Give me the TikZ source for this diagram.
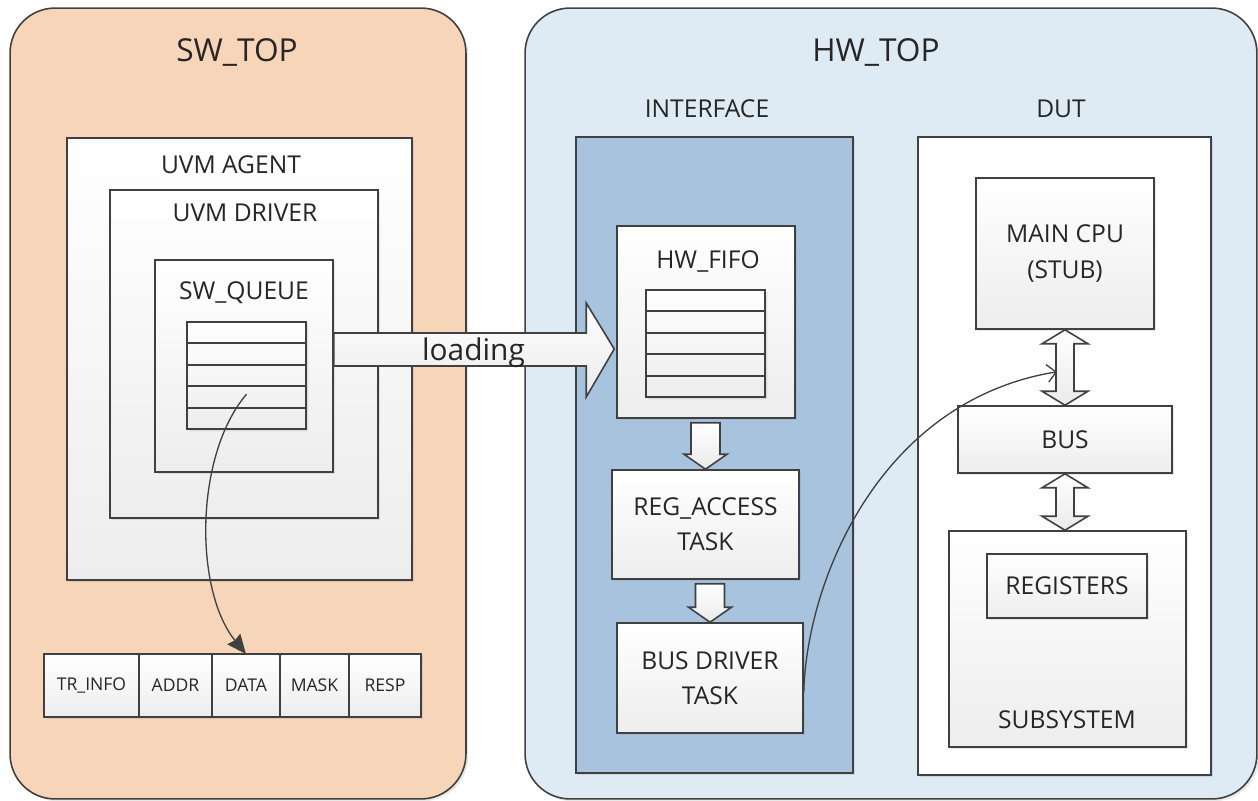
\documentclass[tikz,border=0pt]{standalone}
\usepackage{fontspec}
\setmainfont{Open Sans}
\usepackage{tikz}
\usetikzlibrary{positioning}
\usetikzlibrary{calc,shapes.multipart,shadows,arrows.meta}

\definecolor{swpeach}{RGB}{247,213,184}
\definecolor{hwpale}{RGB}{222,234,244}
\definecolor{ifblue}{RGB}{167,195,222}
\definecolor{edge}{RGB}{64,64,64}

\tikzset{
  blk/.style = {draw=edge, line width=0.9pt, text=black!85, align=center,
    inner sep=0pt, font=\fontsize{14}{20}\selectfont},
  soft/.style = {drop shadow={opacity=0.18, shadow xshift=1.3pt,
    shadow yshift=-1.3pt}},% ombre legere
  frame/.style = {blk, rounded corners=0.9cm, soft},% SW_TOP / HW_TOP
  panel/.style = {blk, rectangle, soft},% interface, dut
  box/.style = {blk, rectangle, top color=white, bottom color=black!7, soft},
  fifo/.style = {box, rectangle split, rectangle split parts=5,
    rectangle split empty part height=0.398cm,
    rectangle split empty part depth=0pt, minimum width=2.38cm},
  field/.style = {box, outer sep=0pt, minimum height=1.26cm,
    font=\fontsize{10}{12}\selectfont},
  title/.style = {text=black!85, anchor=base, font=\fontsize{18}{22}\selectfont},
  lbl/.style = {text=black!85, anchor=base, font=\fontsize{14}{17}\selectfont},
  bigarrow/.style = {draw=edge, line width=0.9pt, top color=white,
    bottom color=black!8},
  link/.style = {draw=edge, line width=0.75pt}
}

% fleche pleine vers le bas, de #1 vers #2
\newcommand{\downblk}[2]{%
  \draw[bigarrow] ($(#2.north |- #1.south)+(-14.5,4)$)
    -- ($(#2.north)+(-14.5,-15)$) -- ($(#2.north)+(-21.5,-15)$)
    -- (#2.north) -- ($(#2.north)+(21.5,-15)$) -- ($(#2.north)+(14.5,-15)$)
    -- ($(#2.north |- #1.south)+(14.5,4)$) -- cycle;}
% fleche pleine double, entre #1 et #2
\newcommand{\dualblk}[2]{%
  \draw[bigarrow] (#1.south) -- ($(#1.south)+(23,14)$) -- ($(#1.south)+(9,14)$)
    -- ($(#1.south |- #2.north)+(9,-14)$) -- ($(#1.south |- #2.north)+(23,-14)$)
    -- (#1.south |- #2.north) -- ($(#1.south |- #2.north)+(-23,-14)$)
    -- ($(#1.south |- #2.north)+(-9,-14)$) -- ($(#1.south)+(-9,14)$)
    -- ($(#1.south)+(-23,14)$) -- cycle;}

\begin{document}
\begin{tikzpicture}[x=0.02cm, y=-0.02cm]
\useasboundingbox (0,0) rectangle (1258,801);

% les deux cadres
\node [frame, fill=swpeach, minimum width=9.12cm, minimum height=15.82cm] (swtop) at (238,403.5) {};
\node [frame, fill=hwpale, minimum width=14.64cm, minimum height=15.82cm] (hwtop) at (891,403.5) {};
\node [title] (swtitle) at (237,61) {SW\_TOP};
\node [title] (hwtitle) at (876,61) {HW\_TOP};

% cote SW
\node [box, minimum width=6.9cm, minimum height=8.84cm] (agent) at (239.5,359) {};
\node [lbl] (agentlbl) at (231,173) {UVM AGENT};
\node [box, minimum width=5.36cm, minimum height=6.56cm] (driver) at (244,354) {};
\node [lbl] (driverlbl) at (245,221) {UVM DRIVER};
\node [box, minimum width=3.56cm, minimum height=4.24cm] (swq) at (244,366) {};
\node [lbl] (swqlbl) at (244,299) {SW\_QUEUE};
\node [fifo] (queue) at (246.5,375.5) {};

\node [field, minimum width=1.9cm] (trinfo) at (91.5,685.5) {TR\_INFO};
\node [field, minimum width=1.46cm, right=0pt of trinfo] (addr) {ADDR};
\node [field, minimum width=1.36cm, right=0pt of addr] (data) {DATA};
\node [field, minimum width=1.38cm, right=0pt of data] (mask) {MASK};
\node [field, minimum width=1.44cm, right=0pt of mask] (resp) {RESP};

% cote HW
\node [panel, fill=ifblue, minimum width=5.54cm, minimum height=12.72cm] (iface) at (714.5,455) {};
\node [lbl] (ifacelbl) at (707,117) {INTERFACE};
\node [panel, fill=white, minimum width=5.86cm, minimum height=12.76cm] (dut) at (1064.5,456) {};
\node [lbl] (dutlbl) at (1061,117) {DUT};

\node [box, minimum width=3.56cm, minimum height=3.84cm] (fifo) at (706,322) {};
\node [lbl] (fifolbl) at (708,268) {HW\_FIFO};
\node [fifo] (hwq) at (705.5,343.5) {};
\node [box, minimum width=3.74cm, minimum height=2.18cm] (reg) at (705.5,524.5) {REG\_ACCESS\\TASK};
\node [box, minimum width=3.72cm, minimum height=2.2cm] (bd) at (710,678) {BUS DRIVER\\TASK};

\node [box, minimum width=3.56cm, minimum height=3.02cm] (cpu) at (1065,253.5) {MAIN CPU\\(STUB)};
\node [box, minimum width=4.28cm, minimum height=1.34cm] (bus) at (1065,439.5) {BUS};
\node [box, minimum width=4.74cm, minimum height=4.32cm] (subsys) at (1067.5,639) {};
\node [box, minimum width=3.2cm, minimum height=1.28cm] (regs) at (1067,586) {REGISTERS};
\node [lbl] (subsyslbl) at (1067,728) {SUBSYSTEM};

% fleche de chargement
\coordinate (ltip) at ($(fifo.west)+(-2,27)$);
\draw[bigarrow] ($(swq.east)+(0,-33)$) -- ($(ltip)+(-28,-16)$) -- ($(ltip)+(-28,-46)$)
  -- (ltip) -- ($(ltip)+(-28,48)$) -- ($(ltip)+(-28,17)$) -- (swq.east) -- cycle;
\node [anchor=base, text=black!85, font=\fontsize{17}{20}\selectfont] (loadlbl) at (473.5,360) {loading};

\downblk{fifo}{reg}
\downblk{reg}{bd}
\dualblk{cpu}{bus}
\dualblk{bus}{subsys}

% liens courbes
\draw[link, -{Stealth[length=11pt,width=9.5pt,inset=1pt]}] ($(queue.three split)+(0,8)$)
  .. controls +(-52,61) and +(-52,-64) .. (data.north);
\coordinate (cpuin) at ($(cpu.south)+(-8,42)$);
\draw[link, -{Straight Barb[length=5pt,width=10pt]}] ($(bd.east)+(0,14)$)
  .. controls +(3,-112) and +(-177,29) .. (cpuin);
\end{tikzpicture}
\end{document}
